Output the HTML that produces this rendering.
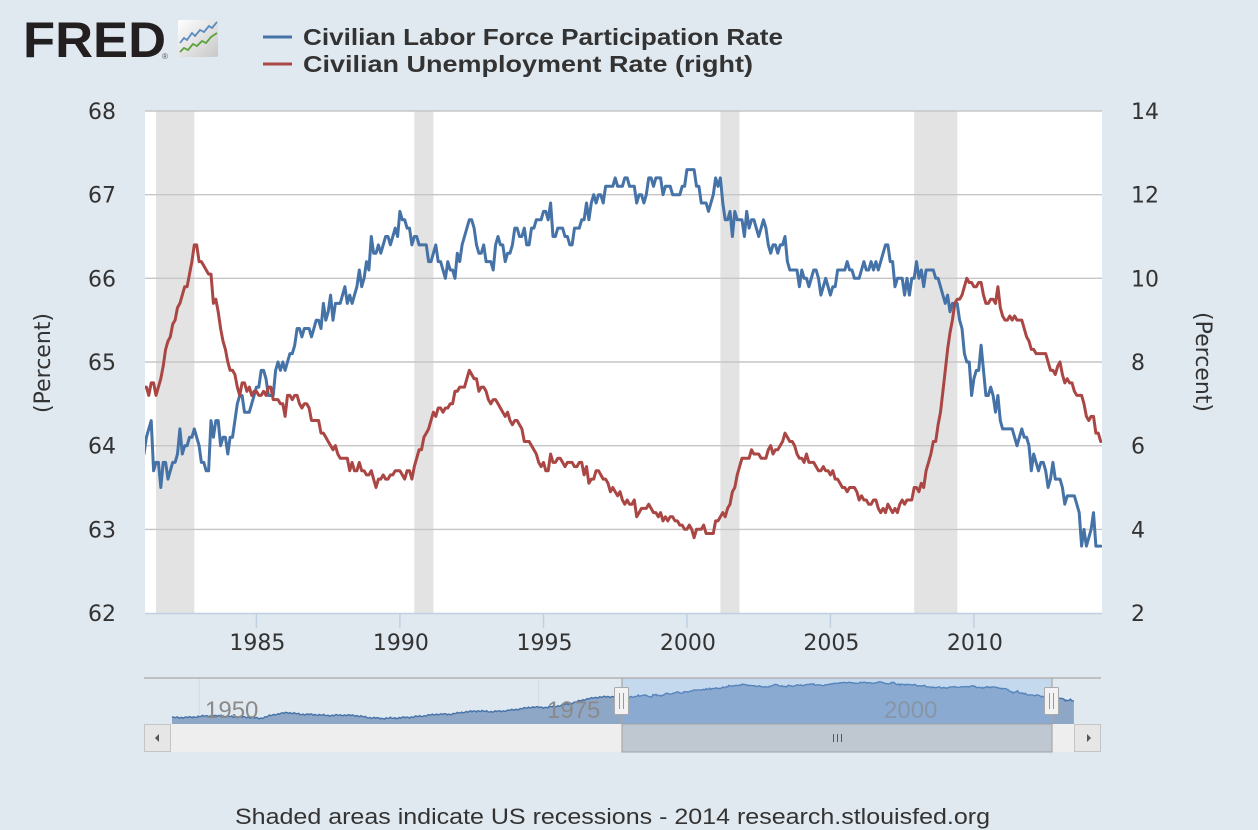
<!DOCTYPE html>
<html>
<head>
<meta charset="utf-8">
<style>
html,body{margin:0;padding:0;background:#e1e9f0;}
body{width:1258px;height:830px;overflow:hidden;}
svg{display:block;}
.ax{font-family:"DejaVu Sans","Liberation Sans",sans-serif;font-size:22px;fill:#333;}
.lg{font-family:"Liberation Sans",sans-serif;font-size:23px;font-weight:bold;fill:#333;}
.nv{font-family:"Liberation Sans",sans-serif;font-size:24px;fill:#8a8a8a;}
.ft{font-family:"Liberation Sans",sans-serif;font-size:22px;fill:#333;}
</style>
</head>
<body>
<svg id="c" width="1258" height="830" viewBox="0 0 1258 830" xmlns="http://www.w3.org/2000/svg">
<defs>
  <clipPath id="pc"><rect x="145" y="108" width="957" height="506"/></clipPath>
  <linearGradient id="ig" x1="0" y1="0" x2="1" y2="1">
    <stop offset="0" stop-color="#ffffff"/>
    <stop offset="1" stop-color="#c8c8c8"/>
  </linearGradient>
</defs>
<rect x="0" y="0" width="1258" height="830" fill="#e1e9f0"/>

<!-- Logo -->
<text x="23" y="57" font-family="Liberation Sans, sans-serif" font-weight="bold" font-size="50" fill="#231f20" textLength="143" lengthAdjust="spacingAndGlyphs">FRED</text>
<text x="162" y="59" font-family="Liberation Sans, sans-serif" font-size="8" fill="#555">®</text>
<rect x="178" y="20" width="40" height="37" rx="2" fill="url(#ig)"/>
<polyline points="180,43 184,38 187,40 192,33 195,36 200,30 204,32 209,26 212,28 217,22" fill="none" stroke="#5b8cc0" stroke-width="1.8"/>
<polyline points="180,52 184,48 188,50 193,44 197,46 202,41 206,43 211,37 217,33" fill="none" stroke="#59a23c" stroke-width="1.8"/>

<!-- Legend -->
<line x1="263" y1="37" x2="292" y2="37" stroke="#4572a7" stroke-width="3"/>
<text class="lg" x="303" y="45" textLength="480" lengthAdjust="spacingAndGlyphs">Civilian Labor Force Participation Rate</text>
<line x1="263" y1="64" x2="292" y2="64" stroke="#aa4643" stroke-width="3"/>
<text class="lg" x="303" y="72" textLength="450" lengthAdjust="spacingAndGlyphs">Civilian Unemployment Rate (right)</text>

<!-- Plot area -->
<rect x="145" y="111" width="957" height="502" fill="#ffffff"/>
<g id="rec" fill="#e3e3e3"></g>
<g id="grid" stroke="#c6c6c6" stroke-width="1.4"></g>
<line x1="145" y1="613.5" x2="1102" y2="613.5" stroke="#c0d0e0" stroke-width="1.5"/>
<g id="ticks" stroke="#c0d0e0" stroke-width="1.5"></g>
<g id="labels"></g>
<g clip-path="url(#pc)">
  <path id="blue" fill="none" stroke="#4572a7" stroke-width="3" stroke-linejoin="round" stroke-linecap="round"/>
  <path id="red" fill="none" stroke="#aa4643" stroke-width="3" stroke-linejoin="round" stroke-linecap="round"/>
</g>

<text class="ax" transform="translate(50,363) rotate(-90)" text-anchor="middle">(Percent)</text>
<text class="ax" transform="translate(1196,362) rotate(90)" text-anchor="middle">(Percent)</text>

<!-- Navigator -->
<g id="navgrid" stroke="#d2dae3" stroke-width="1"></g>
<path id="navarea" fill="#8fa7c6" stroke="none"/>
<path id="navline" fill="none" stroke="#4572a7" stroke-width="1.4"/>
<text class="nv" x="205" y="718">1950</text>
<text class="nv" x="547" y="718">1975</text>
<text class="nv" x="884" y="718">2000</text>
<rect x="622" y="678" width="430" height="46" fill="rgba(128,179,236,0.3)"/>
<line x1="144" y1="678" x2="1101" y2="678" stroke="#b2b2b2" stroke-width="1.5"/>

<!-- Scrollbar -->
<rect x="171" y="724" width="903" height="28" fill="#eeeeee"/>
<rect x="622" y="724" width="430" height="28" fill="#bfc7d0" stroke="#a0a0a0" stroke-width="1"/>
<line x1="622" y1="678" x2="622" y2="752" stroke="#a8a8a8" stroke-width="1.2"/>
<line x1="1052" y1="678" x2="1052" y2="752" stroke="#a8a8a8" stroke-width="1.2"/>
<g stroke="#555" stroke-width="1">
  <line x1="833.5" y1="734" x2="833.5" y2="742"/>
  <line x1="837.5" y1="734" x2="837.5" y2="742"/>
  <line x1="841.5" y1="734" x2="841.5" y2="742"/>
</g>
<rect x="144.5" y="724.5" width="26" height="27" fill="#e6e6e6" stroke="#c4c4c4"/>
<polygon points="155,738 159,734 159,742" fill="#555"/>
<rect x="1074.5" y="724.5" width="26" height="27" fill="#e6e6e6" stroke="#c4c4c4"/>
<polygon points="1091,738 1087,734 1087,742" fill="#555"/>

<!-- Handles -->
<rect x="614.5" y="687.5" width="14" height="27" rx="1" fill="#f2f2f2" stroke="#aaaaaa"/>
<line x1="619.5" y1="693" x2="619.5" y2="709" stroke="#999"/>
<line x1="623.5" y1="693" x2="623.5" y2="709" stroke="#999"/>
<rect x="1044.5" y="687.5" width="14" height="27" rx="1" fill="#f2f2f2" stroke="#aaaaaa"/>
<line x1="1049.5" y1="693" x2="1049.5" y2="709" stroke="#999"/>
<line x1="1053.5" y1="693" x2="1053.5" y2="709" stroke="#999"/>

<!-- Footer -->
<text class="ft" x="235" y="824" textLength="755" lengthAdjust="spacingAndGlyphs">Shaded areas indicate US recessions - 2014 research.stlouisfed.org</text>
</svg>

<script>
(function(){
var NS="http://www.w3.org/2000/svg";
function el(tag,attrs,parent,txt){var e=document.createElementNS(NS,tag);for(var k in attrs)e.setAttribute(k,attrs[k]);if(txt!==undefined)e.textContent=txt;parent.appendChild(e);return e;}
var X=function(t){return 156+(t-1981.5)*28.7;};
var YL=function(v){return 111+(68-v)*83.67;};
var YR=function(u){return 111+(14-u)*41.83;};

var lf=[
63.9,63.9,64.1,64.2,64.3,63.7,63.8,63.8,63.5,63.8,63.8,63.6,
63.7,63.8,63.8,63.9,64.2,63.9,64.0,64.0,64.1,64.1,64.2,64.1,
64.0,63.8,63.8,63.7,63.7,64.3,64.1,64.3,64.3,64.0,64.1,64.1,
63.9,64.1,64.1,64.3,64.5,64.6,64.6,64.4,64.4,64.4,64.5,64.6,
64.7,64.7,64.9,64.9,64.8,64.6,64.6,64.6,64.9,65.0,64.9,65.0,
64.9,65.0,65.1,65.1,65.2,65.4,65.4,65.3,65.4,65.4,65.4,65.3,
65.4,65.5,65.5,65.4,65.7,65.5,65.6,65.8,65.5,65.7,65.7,65.7,
65.8,65.9,65.7,65.8,65.7,65.8,65.9,66.1,65.9,66.0,66.2,66.1,
66.5,66.3,66.3,66.4,66.3,66.4,66.5,66.5,66.4,66.5,66.6,66.5,
66.8,66.7,66.7,66.6,66.6,66.4,66.5,66.5,66.4,66.4,66.4,66.4,
66.2,66.2,66.3,66.4,66.2,66.2,66.1,66.0,66.2,66.1,66.1,66.0,
66.3,66.2,66.4,66.5,66.6,66.7,66.7,66.6,66.4,66.3,66.3,66.4,
66.2,66.2,66.2,66.1,66.4,66.5,66.4,66.4,66.2,66.3,66.3,66.4,
66.6,66.6,66.5,66.5,66.6,66.4,66.4,66.6,66.6,66.7,66.7,66.7,
66.8,66.8,66.7,66.9,66.5,66.5,66.6,66.6,66.6,66.5,66.5,66.4,
66.4,66.6,66.6,66.6,66.7,66.7,66.9,66.7,66.9,67.0,66.9,67.0,
67.0,66.9,67.1,67.1,67.1,67.1,67.2,67.1,67.1,67.1,67.2,67.2,
67.1,67.1,67.1,66.9,67.0,67.0,66.9,67.0,67.2,67.2,67.1,67.2,
67.2,67.2,67.0,67.1,67.1,67.1,67.0,67.0,67.0,67.0,67.1,67.1,
67.3,67.3,67.3,67.3,67.1,67.1,66.9,66.9,66.9,66.8,66.9,67.0,
67.2,67.1,67.2,66.9,66.7,66.7,66.8,66.5,66.8,66.7,66.7,66.7,
66.5,66.8,66.6,66.7,66.7,66.6,66.5,66.6,66.7,66.6,66.4,66.3,
66.4,66.4,66.3,66.4,66.4,66.5,66.2,66.1,66.1,66.1,66.1,65.9,
66.1,66.0,66.0,65.9,66.0,66.1,66.1,66.0,65.8,65.9,66.0,65.9,
65.8,65.9,65.9,66.1,66.1,66.1,66.1,66.2,66.1,66.1,66.0,66.0,
66.0,66.1,66.2,66.1,66.1,66.2,66.1,66.2,66.1,66.2,66.3,66.4,
66.4,66.2,66.2,65.9,66.0,66.0,66.0,65.8,66.0,65.8,66.0,66.0,
66.2,66.0,66.1,65.9,66.1,66.1,66.1,66.1,66.0,66.0,65.9,65.8,
65.7,65.8,65.6,65.7,65.7,65.7,65.5,65.4,65.1,65.0,65.0,64.6,
64.8,64.9,64.9,65.2,64.9,64.6,64.6,64.7,64.6,64.4,64.6,64.3,
64.2,64.2,64.2,64.2,64.2,64.1,64.0,64.1,64.2,64.1,64.1,64.0,
63.7,63.9,63.8,63.7,63.8,63.8,63.7,63.5,63.6,63.8,63.6,63.6,
63.6,63.5,63.3,63.4,63.4,63.4,63.4,63.3,63.2,62.8,63.0,62.8,
62.9,63.0,63.2,62.8,62.8,62.8];

var ur=[
7.5,7.4,7.4,7.2,7.5,7.5,7.2,7.4,7.6,7.9,8.3,8.5,
8.6,8.9,9.0,9.3,9.4,9.6,9.8,9.8,10.1,10.4,10.8,10.8,
10.4,10.4,10.3,10.2,10.1,10.1,9.4,9.5,9.2,8.8,8.5,8.3,
8.0,7.8,7.8,7.7,7.4,7.2,7.5,7.5,7.3,7.4,7.2,7.3,
7.3,7.2,7.2,7.3,7.2,7.4,7.4,7.1,7.1,7.1,7.0,7.0,
6.7,7.2,7.2,7.1,7.2,7.2,7.0,6.9,7.0,7.0,6.9,6.6,
6.6,6.6,6.6,6.3,6.3,6.2,6.1,6.0,5.9,6.0,5.8,5.7,
5.7,5.7,5.7,5.4,5.6,5.4,5.4,5.6,5.4,5.4,5.3,5.3,
5.4,5.2,5.0,5.2,5.2,5.3,5.2,5.2,5.3,5.3,5.4,5.4,
5.4,5.3,5.2,5.4,5.4,5.2,5.5,5.7,5.9,5.9,6.2,6.3,
6.4,6.6,6.8,6.7,6.9,6.9,6.8,6.9,6.9,7.0,7.0,7.3,
7.3,7.4,7.4,7.4,7.6,7.8,7.7,7.6,7.6,7.3,7.4,7.4,
7.3,7.1,7.0,7.1,7.1,7.0,6.9,6.8,6.7,6.8,6.6,6.5,
6.6,6.6,6.5,6.4,6.1,6.1,6.1,6.0,5.9,5.8,5.6,5.5,
5.6,5.4,5.4,5.8,5.6,5.6,5.7,5.7,5.6,5.5,5.6,5.6,
5.6,5.5,5.5,5.6,5.6,5.3,5.5,5.1,5.2,5.2,5.4,5.4,
5.3,5.2,5.2,5.1,4.9,5.0,4.9,4.8,4.9,4.7,4.6,4.7,
4.6,4.6,4.7,4.3,4.4,4.5,4.5,4.5,4.6,4.5,4.4,4.4,
4.3,4.4,4.2,4.3,4.2,4.3,4.3,4.2,4.2,4.1,4.1,4.0,
4.0,4.1,4.0,3.8,4.0,4.0,4.0,4.1,3.9,3.9,3.9,3.9,
4.2,4.2,4.3,4.4,4.3,4.5,4.6,4.9,5.0,5.3,5.5,5.7,
5.7,5.7,5.7,5.9,5.8,5.8,5.8,5.7,5.7,5.7,5.9,6.0,
5.8,5.9,5.9,6.0,6.1,6.3,6.2,6.1,6.1,6.0,5.8,5.7,
5.7,5.6,5.8,5.6,5.6,5.6,5.5,5.4,5.4,5.5,5.4,5.4,
5.3,5.4,5.2,5.2,5.1,5.0,5.0,4.9,5.0,5.0,5.0,4.9,
4.7,4.8,4.7,4.7,4.6,4.6,4.7,4.7,4.5,4.4,4.5,4.4,
4.6,4.5,4.4,4.5,4.4,4.6,4.7,4.6,4.7,4.7,4.7,5.0,
5.0,4.9,5.1,5.0,5.4,5.6,5.8,6.1,6.1,6.5,6.8,7.3,
7.8,8.3,8.7,9.0,9.4,9.5,9.5,9.6,9.8,10.0,9.9,9.9,
9.8,9.8,9.9,9.9,9.6,9.4,9.4,9.5,9.5,9.4,9.8,9.3,
9.1,9.0,9.0,9.1,9.0,9.1,9.0,9.0,9.0,8.8,8.6,8.5,
8.3,8.3,8.2,8.2,8.2,8.2,8.2,8.0,7.8,7.8,7.7,7.9,
8.0,7.7,7.5,7.6,7.5,7.5,7.3,7.2,7.2,7.2,7.0,6.7,
6.6,6.7,6.7,6.3,6.3,6.1];

var svg=document.getElementById('c');

// recessions
var recs=[[1981.5,1982.833],[1990.5,1991.167],[2001.167,2001.833],[2007.917,2009.417]];
var rg=document.getElementById('rec');
recs.forEach(function(r){el('rect',{x:X(r[0]).toFixed(1),y:111,width:(X(r[1])-X(r[0])).toFixed(1),height:502},rg);});

// grid + labels
var gg=document.getElementById('grid'), lg=document.getElementById('labels');
for(var v=62; v<=68; v++){
  var y=YL(v);
  if(v>62) el('line',{x1:145,y1:y.toFixed(1),x2:1102,y2:y.toFixed(1)},gg);
  el('text',{'class':'ax',x:116,y:(y+8).toFixed(1),'text-anchor':'end'},lg,String(v));
  var u=2+(v-62)*2;
  el('text',{'class':'ax',x:1131,y:(YR(u)+8).toFixed(1),'text-anchor':'start'},lg,String(u));
}
var tg=document.getElementById('ticks');
[1985,1990,1995,2000,2005,2010].forEach(function(yr){
  var x=X(yr);
  el('line',{x1:x.toFixed(1),y1:613,x2:x.toFixed(1),y2:628},tg);
  el('text',{'class':'ax',x:(x+1).toFixed(1),y:650,'text-anchor':'middle'},lg,String(yr));
});

// series
function path(arr,Y){var d='';for(var i=0;i<arr.length;i++){var t=1981+i/12;d+=(i?'L':'M')+X(t).toFixed(1)+','+Y(arr[i]).toFixed(1);}return d;}
document.getElementById('blue').setAttribute('d',path(lf,YL));
document.getElementById('red').setAttribute('d',path(ur,YR));

// navigator
var XN=function(t){return 172+(t-1948)*13.58;};
var YN=function(v){return 684+(66.8-v)*4.2;};
var ann=[58.8,58.9,59.2,59.2,59.0,58.9,58.6,59.5,60.0,59.6,59.5,59.3,59.4,59.3,58.8,58.6,58.7,58.9,59.2,59.6,59.6,60.1,60.4,60.2,60.4,60.8,61.3,61.2,61.6,62.3,63.2,63.7,63.8];
var nd=[];
for(var i=0;i<33*12;i++){
  var t=1948+i/12, p=t-1948-0.5;
  var k=Math.max(0,Math.min(ann.length-1.001,p));
  var k0=Math.floor(k), f=k-k0;
  var val=ann[k0]*(1-f)+ann[Math.min(k0+1,ann.length-1)]*f;
  val+=0.12*Math.sin(i*1.7)+0.07*Math.sin(i*0.53)+0.05*Math.sin(i*3.1);
  nd.push([t,val]);
}
for(var j=0;j<lf.length;j++){nd.push([1981+j/12,lf[j]]);}
var ld='';
nd.forEach(function(p,i){ld+=(i?'L':'M')+XN(p[0]).toFixed(1)+','+YN(p[1]).toFixed(1);});
var last=nd[nd.length-1];
var ad='M'+XN(1948).toFixed(1)+',724 L'+ld.substring(1)+' L'+XN(last[0]).toFixed(1)+',724 Z';
document.getElementById('navarea').setAttribute('d',ad);
document.getElementById('navline').setAttribute('d',ld);
var ng=document.getElementById('navgrid');
[1950,1975,2000].forEach(function(yr){var x=XN(yr).toFixed(1);el('line',{x1:x,y1:678,x2:x,y2:724},ng);});
})();
</script>
</body>
</html>
